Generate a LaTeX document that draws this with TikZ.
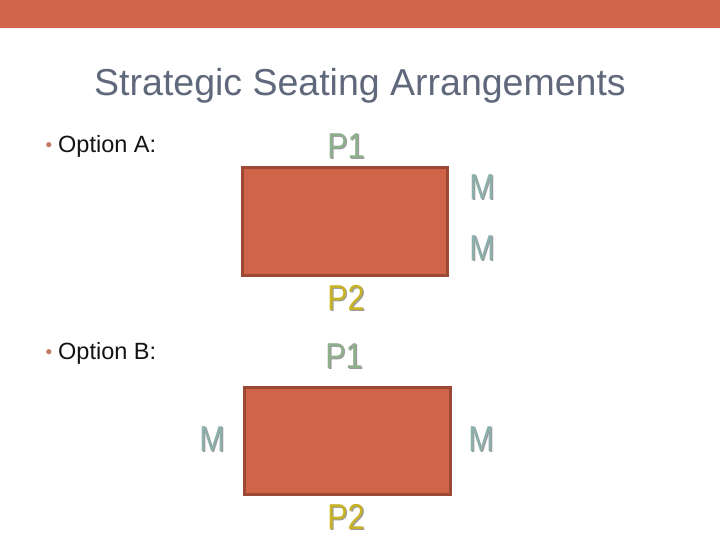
\documentclass[tikz,border=0pt]{standalone}
\usepackage{fontspec}
\setmainfont{Liberation Sans}
\definecolor{bar}{RGB}{209,101,74}
\definecolor{rectfill}{RGB}{208,100,73}
\definecolor{rectline}{RGB}{156,72,52}
\definecolor{titlecol}{RGB}{96,104,124}
\definecolor{optcol}{RGB}{20,20,20}
\definecolor{bulcol}{RGB}{195,120,100}
\definecolor{pone}{RGB}{143,174,140}
\definecolor{mcol}{RGB}{140,176,172}
\definecolor{ptwo}{RGB}{200,178,38}
\definecolor{shade}{RGB}{110,110,110}
\begin{document}
\begin{tikzpicture}[x=1pt,y=-1pt,
  lbl/.style={font=\fontsize{36}{36}\selectfont, xscale=0.85, inner sep=0pt},
  shad/.style={lbl, text=shade!70},
  seat/.style={draw=rectline, line width=3pt, fill=rectfill},
  opt/.style={font=\fontsize{23.5}{26}\selectfont, text=optcol, anchor=west, inner sep=0pt},
  bul/.style={font=\fontsize{19}{19}\selectfont, text=bulcol, inner sep=0pt}]
\useasboundingbox (0,0) rectangle (720,540);
\fill[white] (0,0) rectangle (720,540);
\fill[bar] (0,0) rectangle (720,28);
\node[font=\fontsize{37.5}{40}\selectfont, text=titlecol] (title) at (360,86) {Strategic Seating Arrangements};
\node[bul] (bulA) at (49,147) {\textbullet};
\node[opt] (optA) at (58,146) {Option A:};
\node[bul] (bulB) at (49,354) {\textbullet};
\node[opt] (optB) at (58,353) {Option B:};
% Option A
\draw[seat] (242,168) rectangle (447,275);
\node[shad] at (347.2,147.2) {P1};
\node[lbl, text=pone] (a1) at (346,146) {P1};
\node[shad] at (483.2,188.2) {M};
\node[lbl, text=mcol] (am1) at (482,187) {M};
\node[shad] at (483.2,249.2) {M};
\node[lbl, text=mcol] (am2) at (482,248) {M};
\node[shad] at (347.2,299.2) {P2};
\node[lbl, text=ptwo] (a2) at (346,298) {P2};
% Option B
\draw[seat] (244,387) rectangle (450,494);
\node[shad] at (345.2,357.2) {P1};
\node[lbl, text=pone] (b1) at (344,356) {P1};
\node[shad] at (213.2,440.2) {M};
\node[lbl, text=mcol] (bm1) at (212,439) {M};
\node[shad] at (482.2,440.2) {M};
\node[lbl, text=mcol] (bm2) at (481,439) {M};
\node[shad] at (347.2,518.2) {P2};
\node[lbl, text=ptwo] (b2) at (346,517) {P2};
\end{tikzpicture}
\end{document}
